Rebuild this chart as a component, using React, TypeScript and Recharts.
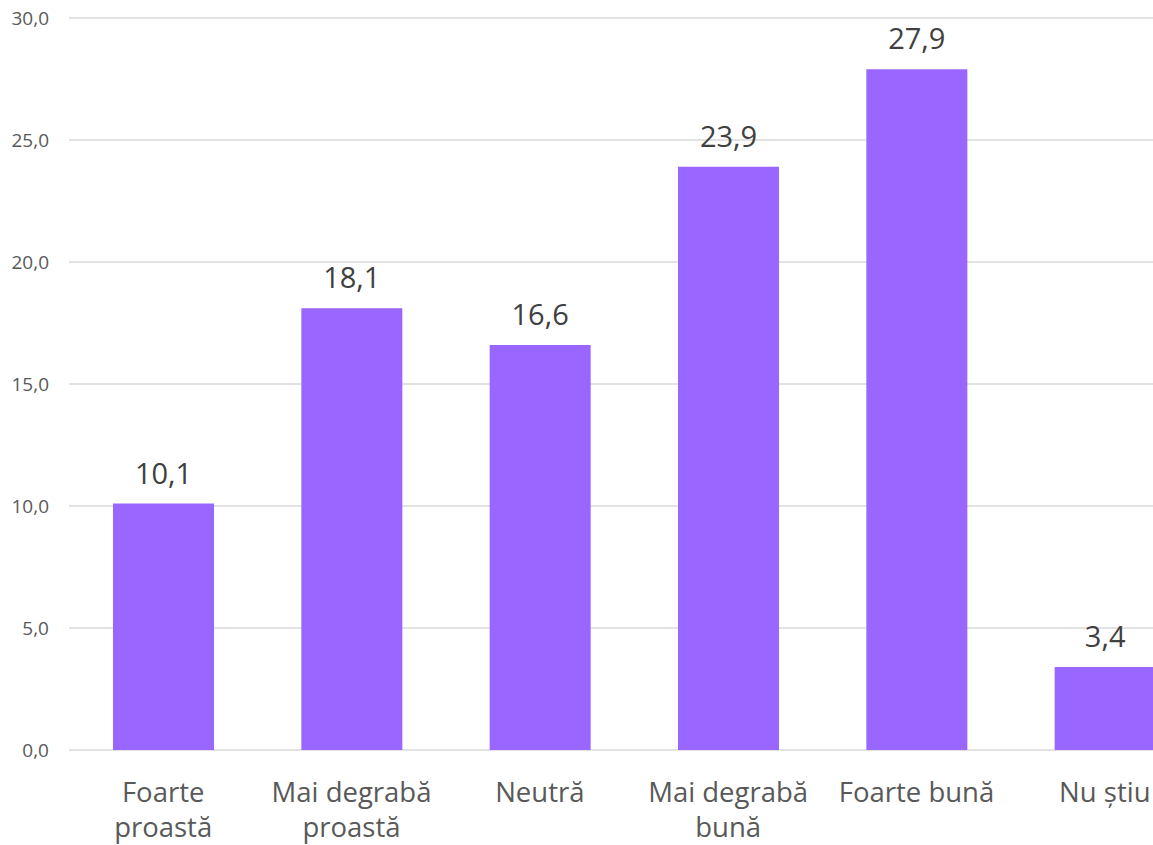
import React from "react";
import { BarChart, Bar, XAxis, YAxis, CartesianGrid, LabelList } from "recharts";

const categories = [
  "Foarte\nproastă",
  "Mai degrabă\nproastă",
  "Neutră",
  "Mai degrabă\nbună",
  "Foarte bună",
  "Nu știu",
];
const values = [10.1, 18.1, 16.6, 23.9, 27.9, 3.4];
const yTicks = [0, 5, 10, 15, 20, 25, 30];

const data = categories.map((c, i) => ({ name: c, value: values[i] }));

const fmt = (v: number) => v.toFixed(1).replace(".", ",");

const FONT = "'Open Sans', 'Noto Sans', sans-serif";

const CatTick = (props: any) => {
  const { x, y, payload } = props;
  const lines = String(payload.value).split("\n");
  return (
    <text
      x={x}
      y={y}
      textAnchor="middle"
      fill="#595959"
      fontSize={27.5}
      fontFamily={FONT}
    >
      {lines.map((l, i) => (
        <tspan key={i} x={x} dy={i === 0 ? 52 : 35}>
          {l}
        </tspan>
      ))}
    </text>
  );
};

export default function App() {
  return (
    <div
      style={{
        position: "absolute",
        left: 0,
        top: 0,
        width: 1153,
        height: 845,
        overflow: "hidden",
        background: "#fff",
      }}
    >
      <BarChart
        width={1209}
        height={845}
        data={data}
        margin={{ top: 18, right: 10, bottom: 5, left: 0 }}
      >
        <CartesianGrid vertical={false} stroke="#d9d9d9" strokeWidth={1.5} />
        <XAxis
          dataKey="name"
          axisLine={false}
          tickLine={false}
          tickSize={0}
          tickMargin={0}
          height={90}
          interval={0}
          tick={<CatTick />}
        />
        <YAxis
          width={69}
          domain={[0, 30]}
          ticks={yTicks}
          tickFormatter={fmt}
          axisLine={false}
          tickLine={false}
          tickSize={0}
          tickMargin={20}
          tick={{ fill: "#595959", fontSize: 19, fontFamily: FONT }}
        />
        <Bar dataKey="value" fill="#9966ff" barSize={101} isAnimationActive={false}>
          <LabelList
            dataKey="value"
            position="top"
            offset={20}
            formatter={(v: any) => fmt(Number(v))}
            fill="#404040"
            fontSize={29}
            fontFamily={FONT}
          />
        </Bar>
      </BarChart>
    </div>
  );
}
